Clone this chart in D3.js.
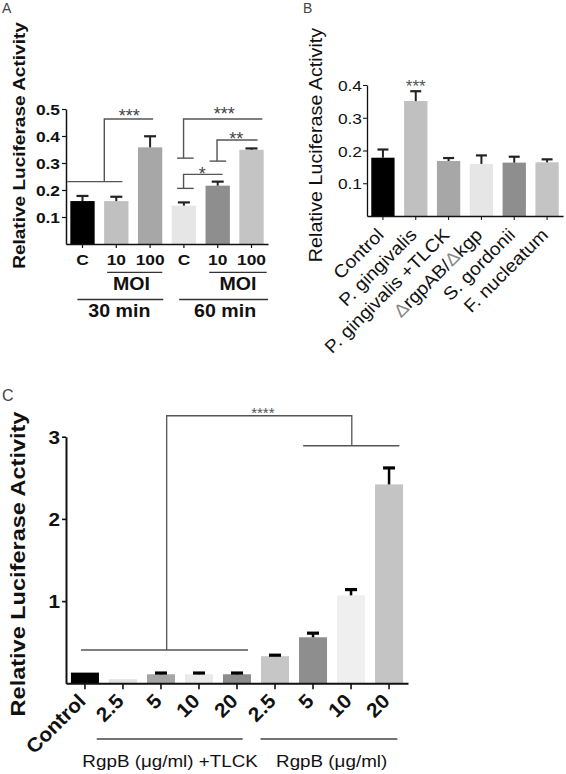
<!DOCTYPE html>
<html><head><meta charset="utf-8">
<script src="https://cdn.jsdelivr.net/npm/d3@7"></script>
<style>
body{margin:0;background:#fff;}
svg{display:block;font-family:"Liberation Sans",Arial,Helvetica,sans-serif;}
</style></head><body>
<svg id="chart" width="566" height="774"></svg>
<script>
// ---------- Panel A data ----------
const catsA = ["C", "10", "100", "C", "10", "100"];
const valsA = [0.159, 0.159, 0.358, 0.142, 0.216, 0.349];
const errA  = [0.019, 0.016, 0.041, 0.012, 0.015, 0.005];
const ticksA = [0.1, 0.2, 0.3, 0.4, 0.5];
const colorsA = ["#000000", "#c0c0c0", "#a7a7a7", "#e6e6e6", "#8e8e8e", "#c4c4c4"];

// ---------- Panel B data ----------
const catsB = ["Control", "P. gingivalis", "P. gingivalis +TLCK", "ΔrgpAB/Δkgp", "S. gordonii", "F. nucleatum"];
const valsB = [0.178, 0.351, 0.168, 0.159, 0.163, 0.164];
const errB  = [0.025, 0.030, 0.009, 0.026, 0.018, 0.009];
const ticksB = [0.1, 0.2, 0.3, 0.4];
const colorsB = ["#000000", "#c0c0c0", "#a7a7a7", "#e6e6e6", "#8e8e8e", "#c4c4c4"];

// ---------- Panel C data ----------
const catsC = ["Control", "2.5", "5", "10", "20", "2.5", "5", "10", "20"];
const valsC = [0.13, 0.05, 0.11, 0.11, 0.11, 0.33, 0.56, 1.07, 2.42];
const errC  = [0, 0, 0.015, 0.015, 0.015, 0.012, 0.05, 0.07, 0.2];
const ticksC = [1, 2, 3];
const colorsC = ["#000000", "#e2e2e2", "#a5a5a5", "#eaeaea", "#8c8c8c", "#c6c6c6", "#8e8e8e", "#efefef", "#c4c4c4"];
const groupsC = ["RgpB (μg/ml) +TLCK", "RgpB (μg/ml)"];

const svg = d3.select("#chart");
const K = 1.12; // horizontal glyph stretch

function label(g, x, y, str, o) {
  o = o || {};
  const t = g.append("text")
    .attr("transform", `translate(${x},${y}) rotate(${o.rot || 0}) scale(${o.k || K},1)`)
    .attr("text-anchor", o.anchor || "middle")
    .attr("font-size", o.size || 14)
    .attr("font-weight", o.weight || "normal")
    .attr("fill", o.fill || "#111");
  if (o.style) t.attr("font-style", o.style);
  t.text(str);
  return t;
}

function panel(cfg) {
  const g = svg.append("g");
  const x = d3.scaleBand().domain(d3.range(cfg.vals.length)).range(cfg.xRange)
    .paddingInner(cfg.pi).paddingOuter(cfg.po);
  const y = d3.scaleLinear().domain(cfg.yDomain).range(cfg.yRange);
  const cx = i => x(i) + x.bandwidth() / 2;
  const xi = t => cx(0) + t * x.step(); // fractional index position

  // bars
  g.selectAll("rect.bar").data(cfg.vals).join("rect").attr("class", "bar")
    .attr("x", (d, i) => x(i)).attr("y", d => y(d))
    .attr("width", x.bandwidth()).attr("height", d => y(0) - y(d))
    .attr("fill", (d, i) => cfg.colors[i]);

  // error bars
  const eb = g.append("g").attr("stroke", cfg.errColor).attr("stroke-width", cfg.errW).attr("fill", "none");
  cfg.vals.forEach((v, i) => {
    const e = cfg.errs[i];
    if (!e) return;
    eb.append("line").attr("x1", cx(i)).attr("x2", cx(i)).attr("y1", y(v)).attr("y2", y(v + e));
    eb.append("line").attr("x1", cx(i) - cfg.capW / 2).attr("x2", cx(i) + cfg.capW / 2)
      .attr("y1", y(v + e)).attr("y2", y(v + e)).attr("stroke-width", cfg.capT);
  });

  // y axis
  const ya = g.append("g").attr("transform", `translate(${cfg.xRange[0]},0)`)
    .call(d3.axisLeft(y).tickValues(cfg.ticks).tickSize(cfg.yTick).tickSizeOuter(0).tickFormat(cfg.fmt));
  ya.select(".domain").attr("stroke", "#111").attr("stroke-width", cfg.axisW);
  ya.selectAll(".tick line").attr("stroke", "#111").attr("stroke-width", cfg.axisW * 0.8);
  ya.selectAll(".tick text").attr("x", null).attr("dy", "0.36em")
    .attr("transform", `translate(${-cfg.yLabPad},0) scale(${K},1)`)
    .attr("font-family", null).attr("font-size", cfg.yTickSize)
    .attr("font-weight", cfg.yTickWeight).attr("fill", "#111");

  // x axis
  const xa = g.append("g").attr("transform", `translate(0,${y(0)})`)
    .call(d3.axisBottom(x).tickSize(cfg.xTick).tickSizeOuter(0).tickFormat(""));
  xa.select(".domain").attr("stroke", "#111").attr("stroke-width", cfg.axisW);
  xa.selectAll(".tick line").attr("stroke", "#111").attr("stroke-width", cfg.axisW * 0.8);

  return { g, x, y, cx, xi };
}

function path(g, pts, color, w) {
  g.append("path").attr("d", d3.line()(pts)).attr("fill", "none")
    .attr("stroke", color).attr("stroke-width", w);
}

// ================= PANEL A =================
{
  const P = panel({
    vals: valsA, errs: errA, colors: colorsA, ticks: ticksA,
    xRange: [66, 268], pi: 0.28, po: 0.128, yDomain: [0, 0.5], yRange: [244, 109],
    errColor: "#222", errW: 2, capW: 12, capT: 2.2, axisW: 1.5, yTick: 4, xTick: 4,
    fmt: d3.format(".1f"), yLabPad: 6, yTickSize: 15.5, yTickWeight: "bold"
  });
  const { g, y, cx, xi } = P;
  catsA.forEach((c, i) => label(g, cx(i), 265, c, { size: 15.5, weight: "bold" }));
  // group lines and labels
  const lc = "#333";
  path(g, [[xi(0.73), 272.3], [xi(2.36), 272.3]], lc, 1.3);
  path(g, [[xi(3.75), 272.3], [xi(5.45), 272.3]], lc, 1.3);
  label(g, xi(1.45), 290, "MOI", { size: 17.5, weight: "bold" });
  label(g, xi(4.6), 290, "MOI", { size: 17.5, weight: "bold" });
  path(g, [[xi(-0.15), 299.5], [xi(2.39), 299.5]], lc, 1.3);
  path(g, [[xi(2.86), 299.5], [xi(5.49), 299.5]], lc, 1.3);
  label(g, xi(1.09), 317, "30 min", { size: 17.5, weight: "bold" });
  label(g, xi(4.22), 317, "60 min", { size: 17.5, weight: "bold" });
  // significance brackets (data units)
  const sc = "#555", sw = 1.4;
  path(g, [[xi(-0.45), y(0.231)], [xi(1.18), y(0.231)]], sc, sw);
  path(g, [[xi(0.645), y(0.231)], [xi(0.645), y(0.463)], [xi(2.09), y(0.463)]], sc, sw);
  path(g, [[xi(2.80), y(0.318)], [xi(3.29), y(0.318)]], sc, sw);
  path(g, [[xi(2.99), y(0.318)], [xi(2.99), y(0.463)], [xi(5.32), y(0.463)]], sc, sw);
  path(g, [[xi(2.80), y(0.206)], [xi(3.29), y(0.206)]], sc, sw);
  path(g, [[xi(2.99), y(0.206)], [xi(2.99), y(0.258)], [xi(4.145), y(0.258)]], sc, sw);
  path(g, [[xi(3.76), y(0.307)], [xi(4.25), y(0.307)]], sc, sw);
  path(g, [[xi(3.98), y(0.307)], [xi(3.98), y(0.385)], [xi(5.18), y(0.385)]], sc, sw);
  const st = { size: 18, fill: "#444", k: 1 };
  label(g, xi(1.385), y(0.489) + 10.3, "***", st);
  label(g, xi(4.195), y(0.496) + 10.3, "***", st);
  label(g, xi(4.55), y(0.404) + 10.3, "**", st);
  label(g, xi(3.54), y(0.274) + 10.3, "*", st);
  // titles
  label(g, 25, 145.5, "Relative Luciferase Activity", { rot: -90, size: 17, weight: "bold", k: 1.12 });
  label(g, 2, 13, "A", { anchor: "start", size: 14, fill: "#444", k: 1 });
}

// ================= PANEL B =================
{
  const P = panel({
    vals: valsB, errs: errB, colors: colorsB, ticks: ticksB,
    xRange: [367, 563], pi: 0.29, po: 0.13, yDomain: [0, 0.4], yRange: [216, 85],
    errColor: "#222", errW: 2, capW: 11, capT: 2.2, axisW: 1.3, yTick: 4, xTick: 4,
    fmt: d3.format(".1f"), yLabPad: 5, yTickSize: 15.5, yTickWeight: "normal"
  });
  const { g, y, cx } = P;
  catsB.forEach((c, i) => {
    const t = g.append("text")
      .attr("transform", `translate(${cx(i) + 2},${y(0) + 20}) rotate(-45) scale(1.08,1)`)
      .attr("text-anchor", "end").attr("font-size", 18).attr("fill", "#111");
    c.split(/(Δ)/).forEach(part => {
      if (!part) return;
      t.append("tspan").attr("fill", part === "Δ" ? "#888" : null).text(part);
    });
  });
  label(g, cx(1), y(0.4) + 7, "***", { size: 17, fill: "#555", k: 1 });
  label(g, 321.7, 145, "Relative Luciferase Activity", { rot: -90, size: 17.6, k: 1.12 });
  label(g, 303, 13, "B", { anchor: "start", size: 14, fill: "#444", k: 1 });
}

// ================= PANEL C =================
{
  const P = panel({
    vals: valsC, errs: errC, colors: colorsC, ticks: ticksC,
    xRange: [66, 408], pi: 0.263, po: 0.13, yDomain: [0, 3], yRange: [683.3, 436.7],
    errColor: "#000", errW: 2.5, capW: 12, capT: 3.2, axisW: 2, yTick: 4, xTick: 6,
    fmt: d3.format("d"), yLabPad: 6, yTickSize: 18.5, yTickWeight: "bold"
  });
  const { g, y, cx, xi } = P;
  catsC.forEach((c, i) => label(g, cx(i) + 2, y(0) + 19, c,
    { rot: -45, anchor: "end", size: 20, weight: "bold", k: 1.05 }));
  const lc = "#444";
  path(g, [[xi(0.31), 739], [xi(4.15), 739]], lc, 1.3);
  path(g, [[xi(4.62), 739], [xi(8.22), 739]], lc, 1.3);
  label(g, xi(2.24), 766.7, groupsC[0], { size: 16.8 });
  label(g, xi(6.49), 766.7, groupsC[1], { size: 16.8 });
  // significance bracket
  const sc = "#555", sw = 1.3;
  path(g, [[xi(-0.105), y(0.405)], [xi(4.29), y(0.405)]], sc, sw);
  path(g, [[xi(2.15), y(0.405)], [xi(2.15), y(3.255)], [xi(7.02), y(3.255)], [xi(7.02), y(2.89)]], sc, sw);
  path(g, [[xi(5.74), y(2.89)], [xi(8.27), y(2.89)]], sc, sw);
  label(g, xi(4.68), y(3.325) + 8, "****", { size: 15, fill: "#555", k: 1 });
  label(g, 25, 564, "Relative Luciferase Activity", { rot: -90, size: 21, weight: "bold", k: 1.12 });
  label(g, 2, 401, "C", { anchor: "start", size: 16, fill: "#444", k: 1 });
}
</script>
</body></html>
